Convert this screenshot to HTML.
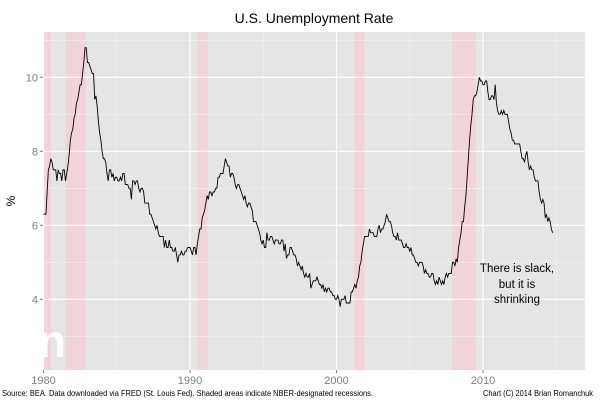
<!DOCTYPE html>
<html><head><meta charset="utf-8"><style>
body{margin:0;background:#fff;}
svg text{font-family:"Liberation Sans",Arial,sans-serif;}
</style></head><body>
<svg width="600" height="400" viewBox="0 0 600 400" xmlns="http://www.w3.org/2000/svg">
<rect x="0" y="0" width="600" height="400" fill="#fff"/>
<text x="314" y="23" font-size="14" text-anchor="middle" fill="#000">U.S. Unemployment Rate</text>
<rect id="panel" x="43" y="32" width="542" height="338" fill="#e5e5e5"/>
<g id="rec"></g>
<g id="grid"></g>
<g id="axes"></g>
<path id="line" fill="none" stroke="#000" stroke-width="0.9"/>
<text x="38" y="357" font-size="46" font-weight="bold" fill="#fff">n</text>
<rect x="0" y="320" width="43" height="45" fill="#fff"/>
<text x="15" y="201" font-size="12" text-anchor="middle" transform="rotate(-90 15 201)" fill="#000">%</text>
<g font-size="11.5" fill="#000" text-anchor="middle">
<text x="517" y="272">There is slack,</text>
<text x="517" y="288">but it is</text>
<text x="517" y="303">shrinking</text>
</g>
<text x="2" y="396" font-size="8" fill="#000" textLength="371" lengthAdjust="spacingAndGlyphs">Source: BEA. Data downloaded via FRED (St. Louis Fed). Shaded areas indicate NBER-designated recessions.</text>
<text x="483" y="396" font-size="8" fill="#000" textLength="110" lengthAdjust="spacingAndGlyphs">Chart (C) 2014 Brian Romanchuk</text>
</svg>
<script>
const startYear = 1980;
const unrate = [
6.3,6.3,6.3,6.9,7.5,7.6,7.8,7.7,7.5,7.5,7.5,7.2,
7.5,7.4,7.4,7.2,7.5,7.5,7.2,7.4,7.6,7.9,8.3,8.5,
8.6,8.9,9.0,9.3,9.4,9.6,9.8,9.8,10.1,10.4,10.8,10.8,
10.4,10.4,10.3,10.2,10.1,10.1,9.4,9.5,9.2,8.8,8.5,8.3,
8.0,7.8,7.8,7.7,7.4,7.2,7.5,7.5,7.3,7.4,7.2,7.3,
7.3,7.2,7.2,7.3,7.2,7.4,7.4,7.1,7.1,7.1,7.0,7.0,
6.7,7.2,7.2,7.1,7.2,7.2,7.0,6.9,7.0,7.0,6.9,6.6,
6.6,6.6,6.6,6.3,6.3,6.2,6.1,6.0,5.9,6.0,5.8,5.7,
5.7,5.7,5.7,5.4,5.6,5.4,5.4,5.6,5.4,5.4,5.3,5.3,
5.4,5.2,5.0,5.2,5.2,5.3,5.2,5.2,5.3,5.3,5.4,5.4,
5.4,5.3,5.2,5.4,5.4,5.2,5.5,5.7,5.9,5.9,6.2,6.3,
6.4,6.6,6.8,6.7,6.9,6.9,6.8,6.9,6.9,7.0,7.0,7.3,
7.3,7.4,7.4,7.4,7.6,7.8,7.7,7.6,7.6,7.3,7.4,7.4,
7.3,7.1,7.0,7.1,7.1,7.0,6.9,6.8,6.7,6.8,6.6,6.5,
6.6,6.6,6.5,6.4,6.1,6.1,6.1,6.0,5.9,5.8,5.6,5.5,
5.6,5.4,5.4,5.8,5.6,5.6,5.7,5.7,5.6,5.5,5.6,5.6,
5.6,5.5,5.5,5.6,5.6,5.3,5.5,5.1,5.2,5.2,5.4,5.4,
5.3,5.2,5.2,5.1,4.9,5.0,4.9,4.8,4.9,4.7,4.6,4.7,
4.6,4.6,4.7,4.3,4.4,4.5,4.5,4.5,4.6,4.5,4.4,4.4,
4.3,4.4,4.2,4.3,4.2,4.3,4.3,4.2,4.2,4.1,4.1,4.0,
4.0,4.1,4.0,3.8,4.0,4.0,4.0,4.1,3.9,3.9,3.9,3.9,
4.2,4.2,4.3,4.4,4.3,4.5,4.6,4.9,5.0,5.3,5.5,5.7,
5.7,5.7,5.7,5.9,5.8,5.8,5.8,5.7,5.7,5.7,5.9,6.0,
5.8,5.9,5.9,6.0,6.1,6.3,6.2,6.1,6.1,6.0,5.8,5.7,
5.7,5.6,5.8,5.6,5.6,5.6,5.5,5.4,5.4,5.5,5.4,5.4,
5.3,5.4,5.2,5.2,5.1,5.0,5.0,4.9,5.0,5.0,5.0,4.9,
4.7,4.8,4.7,4.7,4.6,4.6,4.7,4.7,4.5,4.4,4.5,4.4,
4.6,4.5,4.4,4.5,4.4,4.6,4.7,4.6,4.7,4.7,4.7,5.0,
5.0,4.9,5.1,5.0,5.4,5.6,5.8,6.1,6.1,6.5,6.8,7.3,
7.8,8.3,8.7,9.0,9.4,9.5,9.5,9.6,9.8,10.0,9.9,9.9,
9.8,9.8,9.9,9.9,9.6,9.4,9.4,9.5,9.5,9.4,9.8,9.3,
9.1,9.0,9.0,9.1,9.0,9.1,9.0,9.0,9.0,8.8,8.6,8.5,
8.3,8.3,8.2,8.2,8.2,8.2,8.2,8.0,7.8,7.8,7.7,7.9,
8.0,7.7,7.5,7.6,7.5,7.5,7.3,7.2,7.2,7.2,6.9,6.7,
6.6,6.7,6.6,6.2,6.3,6.1,6.2,6.1,5.9,5.8
];
const recStart = [1980.0, 1981.5, 1990.5, 2001.2, 2007.9];
const recEnd = [1980.5, 1982.9, 1991.2, 2001.9, 2009.5];
const xTicks = [1980, 1990, 2000, 2010];
const xMinor = [1985, 1995, 2005, 2015];
const yTicks = [4, 6, 8, 10];
const yMinor = [3, 5, 7, 9, 11];

const PX0 = 43, PX1 = 585, PY0 = 32, PY1 = 370;
function xs(yr){ return 43.5 + (yr - 1980) * 14.65; }
function ys(v){ return 299.3 - (v - 4) * 37; }
const NS = 'http://www.w3.org/2000/svg';
function mk(tag, attrs, parent){
  const e = document.createElementNS(NS, tag);
  for (const k in attrs) e.setAttribute(k, attrs[k]);
  parent.appendChild(e); return e;
}
const rec = document.getElementById('rec');
recStart.forEach((s, i) => {
  const r = mk('rect', {x: xs(s), y: PY0, width: xs(recEnd[i]) - xs(s), height: PY1 - PY0, fill: '#f0d4d9'}, rec);
  
  
});
const grid = document.getElementById('grid');
xMinor.forEach(t => { const l = mk('line', {x1: xs(t), x2: xs(t), y1: PY0, y2: PY1, stroke: '#f2f2f2', 'stroke-width': 0.6}, grid);
    });
yMinor.forEach(t => { const l = mk('line', {x1: PX0, x2: PX1, y1: ys(t), y2: ys(t), stroke: '#f2f2f2', 'stroke-width': 0.6}, grid);
    });
xTicks.forEach(t => { const l = mk('line', {x1: xs(t), x2: xs(t), y1: PY0, y2: PY1, stroke: '#fff', 'stroke-width': 1.2}, grid);
    });
yTicks.forEach(t => { const l = mk('line', {x1: PX0, x2: PX1, y1: ys(t), y2: ys(t), stroke: '#fff', 'stroke-width': 1.2}, grid);
    });
const axes = document.getElementById('axes');
xTicks.forEach(t => {
  const tk = mk('line', {x1: xs(t), x2: xs(t), y1: PY1, y2: PY1 + 3, stroke: '#7f7f7f'}, axes);
   
  const tx = mk('text', {x: xs(t), y: PY1 + 14, 'font-size': 11, fill: '#7f7f7f', 'text-anchor': 'middle'}, axes);
  tx.textContent = t;
   
});
yTicks.forEach(t => {
  const tk = mk('line', {x1: PX0 - 3, x2: PX0, y1: ys(t), y2: ys(t), stroke: '#7f7f7f'}, axes);
   
  const tx = mk('text', {x: PX0 - 5, y: ys(t) + 4, 'font-size': 11, fill: '#7f7f7f', 'text-anchor': 'end'}, axes);
  tx.textContent = t;
   
});
let d = '';
unrate.forEach((v, i) => { d += (i ? 'L' : 'M') + xs(startYear + i / 12).toFixed(2) + ' ' + ys(v).toFixed(2); });
document.getElementById('line').setAttribute('d', d);
</script>
</body></html>
